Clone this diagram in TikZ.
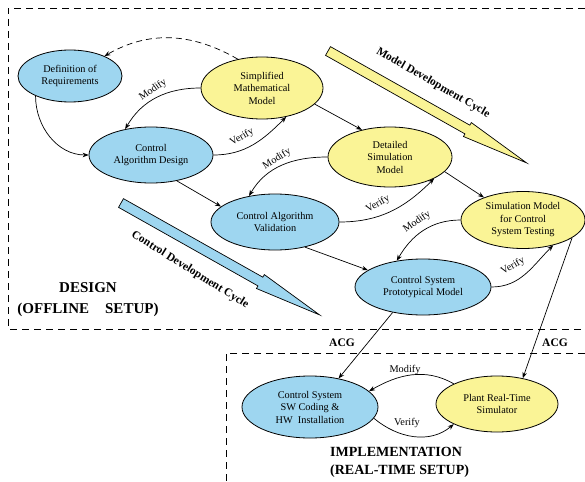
\documentclass[tikz,border=0pt]{standalone}
\usepackage{fontspec}
\setmainfont{Liberation Serif}
\usetikzlibrary{shapes.geometric,arrows.meta}
\definecolor{ellblue}{RGB}{158,214,240}
\definecolor{ellyellow}{RGB}{250,244,150}
\tikzset{
  ell/.style={ellipse, draw=black, line width=0.8pt, inner sep=0pt, align=center,
    font=\fontsize{10.3}{12.5}\selectfont},
  bell/.style={ell, fill=ellblue},
  yell/.style={ell, fill=ellyellow},
  arr/.style={-{Stealth[length=6pt,width=4.5pt]}, line width=0.7pt},
  elabel/.style={font=\fontsize{10.3}{12}\selectfont, inner sep=0pt},
  boxline/.style={line width=0.8pt, dash pattern=on 7pt off 5pt},
  cycarrow/.style={draw=black, line width=0.7pt},
  biglabel/.style={font=\fontsize{15}{21}\bfseries\selectfont, align=center, inner sep=0pt},
  acg/.style={font=\fontsize{11.5}{13}\bfseries\selectfont, inner sep=0pt},
  cyclabel/.style={font=\fontsize{11.5}{13}\bfseries\selectfont, inner sep=0pt}
}
\begin{document}
\begin{tikzpicture}[x=1pt,y=-1pt]
\useasboundingbox (0,0) rectangle (585,481);
% dashed boxes
\coordinate (d1) at (8,8);
\coordinate (d2) at (585,8);
\coordinate (d3) at (8,329);
\coordinate (d4) at (585,329);
\draw[boxline] (d2) -- (d1) -- (d3) -- (d4);
\coordinate (i1) at (585,353);
\coordinate (i2) at (226,353);
\coordinate (i3) at (226,481);
\draw[boxline] (i1) -- (i2) -- (i3);

% cycle arrows
\begin{scope}[shift={(328,51)}, rotate=-29.4]
  \draw[cycarrow, fill=ellyellow] (0,5) -- (160,5) -- (160,8) -- (228,0) -- (160,-8) -- (160,-5) -- (0,-5) -- cycle;
\end{scope}
\begin{scope}[shift={(121,203)}, rotate=-29.4]
  \draw[cycarrow, fill=ellblue] (0,5) -- (160,5) -- (160,8) -- (228,0) -- (160,-8) -- (160,-5) -- (0,-5) -- cycle;
\end{scope}
\node[cyclabel, rotate=-30] (mdc) at (433,83) {Model Development Cycle};
\node[cyclabel, rotate=-32] (cdc) at (190,270) {Control Development Cycle};

% nodes
\node[bell, minimum width=104pt, minimum height=52pt] (def) at (70,76) {Definition of\\Requirements};
\node[yell, minimum width=122pt, minimum height=62pt] (simp) at (262,88) {Simplified\\Mathematical\\Model};
\node[bell, minimum width=124pt, minimum height=56pt] (cad) at (151,155) {Control\\Algorithm Design};
\node[yell, minimum width=124pt, minimum height=60pt] (det) at (390,157) {Detailed\\Simulation\\Model};
\node[bell, minimum width=128pt, minimum height=56pt] (cav) at (275,222) {Control Algorithm\\Validation};
\node[yell, minimum width=124pt, minimum height=57pt] (simcst) at (523,220) {Simulation Model\\for Control\\System Testing};
\node[bell, minimum width=136pt, minimum height=56pt] (cspm) at (423,287) {Control System\\Prototypical Model};
\node[bell, minimum width=136pt, minimum height=62pt] (cssw) at (310,407) {Control System\\SW Coding \&\\HW\ \ Installation};
\node[yell, minimum width=122pt, minimum height=56pt] (plant) at (497,404) {Plant Real-Time\\Simulator};

% connectors
\draw[arr, dash pattern=on 6pt off 4pt] (simp.130) to[out=150,in=30] (def.30);
\draw[arr] (def.210) to[out=-90,in=180] (cad.180);
\draw[arr] (simp.180) to[out=180,in=60] (cad.135);
\draw[arr] (cad.0) to[out=0,in=225] (simp.-50);
\draw[arr] (cad.-45) -- (cav.164);
\draw[arr] (simp.-17) -- (det.136);
\draw[arr] (det.180) to[out=180,in=60] (cav.135);
\draw[arr] (cav.0) to[out=0,in=225] (det.-26);
\draw[arr] (det.-15) -- (simcst.150);
\draw[arr] (cav.-40) -- (cspm.163);
\draw[arr] (simcst.180) to[out=180,in=60] (cspm.135);
\draw[arr] (cspm.0) to[out=0,in=225] (simcst.-40);
\draw[arr] (cspm.-140) -- (cssw.45);
\draw[arr] (simcst.-20) -- (plant.45);
\draw[arr] (plant.155) to[out=150,in=30] (cssw.15);
\draw[arr] (cssw.-10) to[out=-40,in=-140] (plant.205);

% edge labels
\node[elabel, rotate=35] (m1) at (153,90) {Modify};
\node[elabel, rotate=30] (v1) at (242,137) {Verify};
\node[elabel, rotate=32] (m2) at (277,159) {Modify};
\node[elabel, rotate=30] (v2) at (378,204) {Verify};
\node[elabel, rotate=35] (m3) at (417,222) {Modify};
\node[elabel, rotate=30] (v3) at (513,266) {Verify};
\node[elabel] (m4) at (405,370) {Modify};
\node[elabel] (v4) at (407,423) {Verify};

% area labels
\node[biglabel] (design) at (88,300) {DESIGN\\(OFFLINE\hspace{16pt}SETUP)};
\node[biglabel, font=\fontsize{14}{18}\bfseries\selectfont, align=left, anchor=west] (impl) at (330,462) {IMPLEMENTATION\\(REAL-TIME SETUP)};
\node[acg] (acg1) at (342,343) {ACG};
\node[acg] (acg2) at (555,343) {ACG};
\end{tikzpicture}
\end{document}
